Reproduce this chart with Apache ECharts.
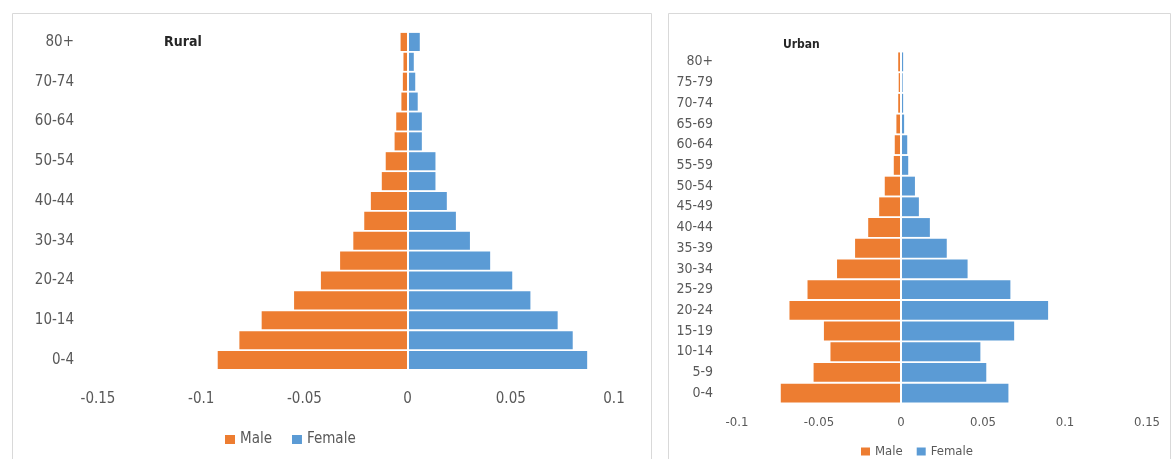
<!DOCTYPE html>
<html>
<head>
<meta charset="utf-8">
<script src="https://cdn.jsdelivr.net/npm/echarts@6/dist/echarts.min.js"></script>
<style>
  html, body { margin: 0; padding: 0; background: #fff; }
  #main { width: 1173px; height: 459px; }
</style>
</head>
<body>
<div id="main"></div>
<script>
// age groups, bottom to top
const ageGroups = ["0-4", "5-9", "10-14", "15-19", "20-24", "25-29", "30-34", "35-39", "40-44",
  "45-49", "50-54", "55-59", "60-64", "65-69", "70-74", "75-79", "80+"];

const ruralMale = [-0.092, -0.0815, -0.0707, -0.055, -0.042, -0.0327, -0.0263, -0.021, -0.0178,
  -0.0125, -0.0106, -0.0063, -0.0055, -0.003, -0.0023, -0.002, -0.0034];
const ruralFemale = [0.087, 0.08, 0.0727, 0.0595, 0.0507, 0.04, 0.0302, 0.0234, 0.019,
  0.0135, 0.0135, 0.0069, 0.0069, 0.0049, 0.0037, 0.003, 0.0059];

const urbanMale = [-0.0733, -0.0533, -0.043, -0.047, -0.068, -0.057, -0.039, -0.028, -0.02,
  -0.0133, -0.0099, -0.0044, -0.0038, -0.0028, -0.0017, -0.0014, -0.0017];
const urbanFemale = [0.0655, 0.052, 0.0484, 0.069, 0.0897, 0.0667, 0.0406, 0.0279, 0.0176,
  0.0109, 0.0085, 0.0044, 0.0038, 0.0019, 0.0013, 0.001, 0.0013];

const ruralTicks = [-0.15, -0.1, -0.05, 0, 0.05, 0.1];
const urbanTicks = [-0.1, -0.05, 0, 0.05, 0.1, 0.15];

const FONT = "'Liberation Sans Narrow', 'DejaVu Sans Condensed', Roboto, sans-serif";
const TEXT = "#595959";
const ORANGE = "#ED7D31";
const BLUE = "#5B9BD5";

function valueAxis(gridIndex, ticks, size, margin) {
  return {
    type: "value",
    gridIndex: gridIndex,
    min: ticks[0],
    max: ticks[ticks.length - 1],
    interval: 0.05,
    axisLine: { show: false },
    axisTick: { show: false },
    splitLine: { show: false },
    axisLabel: {
      color: TEXT,
      fontFamily: FONT,
      fontSize: size,
      margin: margin,
      formatter: function (v) {
        // snap to the nearest tick label
        let best = ticks[0];
        ticks.forEach((t) => { if (Math.abs(t - v) < Math.abs(best - v)) best = t; });
        return String(best);
      }
    }
  };
}

function catAxis(gridIndex, interval, size) {
  return {
    type: "category",
    gridIndex: gridIndex,
    data: ageGroups,
    axisLine: { show: false, onZero: false },
    axisTick: { show: false },
    axisLabel: {
      interval: interval,
      color: TEXT,
      fontFamily: FONT,
      fontSize: size,
      margin: 24
    }
  };
}

function barSeries(name, xi, data, color) {
  let s = {
    name: name,
    type: "bar",
    xAxisIndex: xi,
    yAxisIndex: xi,
    data: data,
    barGap: "-100%",
    barCategoryGap: "9%",
    itemStyle: { color: color },
    silent: true
  };
  if (name === "Female") {
    // white seam at zero
    s.markLine = {
      silent: true,
      symbol: "none",
      label: { show: false },
      lineStyle: { color: "#fff", width: 2, type: "solid" },
      data: [{ xAxis: 0 }]
    };
  }
  return s;
}

let option = {
  animation: false,
  backgroundColor: "#fff",
  textStyle: { fontFamily: FONT },
  graphic: [
    { type: "rect", shape: { x: 12.5, y: 13.5, width: 639, height: 460 },
      style: { fill: "none", stroke: "#d9d9d9", lineWidth: 1 } },
    { type: "rect", shape: { x: 668.5, y: 13.5, width: 502, height: 460 },
      style: { fill: "none", stroke: "#d9d9d9", lineWidth: 1 } },
    { type: "text", left: 164, top: 35,
      style: { text: "Rural", font: "bold 14px " + FONT, fill: "#262626" } },
    { type: "text", left: 783, top: 39,
      style: { text: "Urban", font: "bold 12px " + FONT, fill: "#262626" } }
  ],
  legend: [
    {
      left: 220, top: 427,
      itemWidth: 10, itemHeight: 9, itemGap: 20,
      icon: "rect",
      textStyle: { color: TEXT, fontFamily: FONT, fontSize: 15 },
      data: ["Male", "Female"]
    },
    {
      left: 856, top: 440,
      itemWidth: 9, itemHeight: 8, itemGap: 14,
      icon: "rect",
      textStyle: { color: TEXT, fontFamily: FONT, fontSize: 13 },
      data: ["Male", "Female"]
    }
  ],
  grid: [
    { left: 98, width: 516, top: 32, height: 338 },
    { left: 737, width: 410, top: 51.5, height: 352 }
  ],
  xAxis: [valueAxis(0, ruralTicks, 15, 22), valueAxis(1, urbanTicks, 13, 13)],
  yAxis: [catAxis(0, 1, 15), catAxis(1, 0, 14)],
  series: [
    barSeries("Male", 0, ruralMale, ORANGE),
    barSeries("Female", 0, ruralFemale, BLUE),
    barSeries("Male", 1, urbanMale, ORANGE),
    barSeries("Female", 1, urbanFemale, BLUE)
  ]
};

let myChart = echarts.init(document.getElementById("main"));
myChart.setOption(option);
</script>
</body>
</html>
